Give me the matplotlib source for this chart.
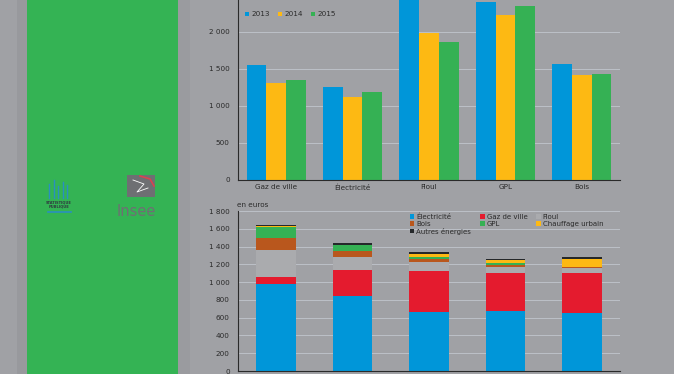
import matplotlib.pyplot as plt
from matplotlib.patches import Rectangle
import numpy as np

# Données : dépense moyenne par énergie (en euros)
categories = ['Gaz de ville', 'Électricité', 'Fioul', 'GPL', 'Bois']
annees = ['2013', '2014', '2015']
v2013 = [1550, 1260, 2600, 2410, 1565]
v2014 = [1305, 1125, 1980, 2225, 1415]
v2015 = [1350, 1190, 1860, 2345, 1435]

# Répartition de la dépense (barres empilées)
elec = [975, 845, 668, 676, 656]
gaz = [86, 296, 458, 430, 443]
fioul = [300, 146, 104, 68, 56]
bois = [140, 64, 26, 16, 12]
gpl = [124, 68, 30, 21, 6]
chauffage = [4, 4, 34, 34, 87]
autres = [14, 14, 14, 11, 18]

BG = '#a0a1a5'
BLEU = '#0096d9'
JAUNE = '#fdb913'
VERT = '#35b154'
ROUGE = '#e41b2e'
BRUN = '#b9571d'
GRIS = '#aaabae'
NOIR = '#25282a'
GRILLE = '#bcc0c8'

plt.rcParams['font.family'] = ['Liberation Sans Narrow', 'DejaVu Sans']

fig = plt.figure(figsize=(6.74, 3.74), dpi=100, facecolor=BG)

# bandeau vert à gauche
fig.patches.append(Rectangle((17 / 674, 0), 10 / 674, 1, transform=fig.transFigure,
                             facecolor='#98999d', edgecolor='none'))
fig.patches.append(Rectangle((27 / 674, 0), 151 / 674, 1, transform=fig.transFigure,
                             facecolor='#34b354', edgecolor='none'))
fig.patches.append(Rectangle((178 / 674, 0), 12 / 674, 1, transform=fig.transFigure,
                             facecolor='#9a9b9f', edgecolor='none'))

# logo Insee
fig.patches.append(Rectangle((127 / 674, 1 - 197 / 374), 28 / 674, 22 / 374,
                             transform=fig.transFigure, facecolor='#6e6f73', edgecolor='none'))
fig.text(136 / 674, 1 - 211 / 374, 'Insee', color='#6e6f73', fontsize=10.5,
         ha='center', va='center', family='DejaVu Sans')
fig.lines.append(plt.Line2D([133 / 674, 144 / 674, 137 / 674, 148 / 674],
                            [1 - 180 / 374, 1 - 184 / 374, 1 - 192 / 374, 1 - 188 / 374],
                            transform=fig.transFigure, color='white', lw=0.6))
fig.lines.append(plt.Line2D([140 / 674, 150 / 674, 154 / 674],
                            [1 - 176 / 374, 1 - 179 / 374, 1 - 186 / 374],
                            transform=fig.transFigure, color='#d9434f', lw=1.2))

# logo statistique publique
for i, h in enumerate([14, 18, 12, 16, 13]):
    xx = (49 + i * 4.5) / 674
    fig.lines.append(plt.Line2D([xx, xx], [1 - 198 / 374, 1 - (198 - h) / 374],
                                transform=fig.transFigure, color='#2a8fc0', lw=1.0))
fig.text(59 / 674, 1 - 202 / 374, 'STATISTIQUE', color='#2f3a40', fontsize=2.6,
         ha='center', va='center', weight='bold')
fig.text(59 / 674, 1 - 207 / 374, 'PUBLIQUE', color='#2f3a40', fontsize=2.6,
         ha='center', va='center', weight='bold')
fig.lines.append(plt.Line2D([48 / 674, 71 / 674], [1 - 212 / 374, 1 - 212 / 374],
                            transform=fig.transFigure, color='#2a8fc0', lw=1.2))

x = np.arange(len(categories))


def style_axes(ax, ymax, ticks, labels):
    ax.set_facecolor('none')
    ax.set_xlim(-0.5, len(categories) - 0.5)
    ax.set_ylim(0, ymax)
    ax.set_yticks(ticks)
    ax.set_yticklabels(labels, fontsize=5.2, color='#2a2a2a')
    for t in ticks[1:]:
        ax.axhline(t, color=GRILLE, lw=0.7, zorder=0)
    for s in ['top', 'right']:
        ax.spines[s].set_visible(False)
    ax.spines['left'].set_color('#2a2a2a')
    ax.spines['bottom'].set_color('#2a2a2a')
    ax.spines['left'].set_linewidth(0.8)
    ax.spines['bottom'].set_linewidth(0.8)
    ax.tick_params(axis='both', length=0, pad=6)


# graphique du haut : barres groupées
ax1 = fig.add_axes([238 / 674, 1 - 180 / 374, 382 / 674, 180 / 374])
style_axes(ax1, 2432, [0, 500, 1000, 1500, 2000], ['0', '500', '1 000', '1 500', '2 000'])
w = 0.258
for i, (vals, col, lab) in enumerate(zip([v2013, v2014, v2015], [BLEU, JAUNE, VERT], annees)):
    ax1.bar(x + (i - 1) * w, vals, width=w, color=col, label=lab, zorder=2)
ax1.set_xticks(x)
ax1.set_xticklabels(categories, fontsize=5.2, color='#2a2a2a')
ax1.tick_params(axis='x', pad=3)
ax1.legend(loc='upper left', bbox_to_anchor=(0.005, 0.965), ncol=3, frameon=False,
           fontsize=5.2, handlelength=0.6, handleheight=0.6, handletextpad=0.3,
           columnspacing=1.1, borderaxespad=0.3, labelcolor='#2a2a2a')

# graphique du bas : barres empilées
ax2 = fig.add_axes([238 / 674, 1 - 371 / 374, 382 / 674, 160 / 374])
style_axes(ax2, 1800, list(range(0, 1801, 200)),
           ['0', '200', '400', '600', '800', '1 000', '1 200', '1 400', '1 600', '1 800'])
ax2.set_xticks([])
series = [('Électricité', elec, BLEU), ('Gaz de ville', gaz, ROUGE), ('Fioul', fioul, GRIS),
          ('Bois', bois, BRUN), ('GPL', gpl, VERT), ('Chauffage urbain', chauffage, JAUNE),
          ('Autres énergies', autres, NOIR)]
bottom = np.zeros(len(categories))
handles = {}
for lab, vals, col in series:
    handles[lab] = ax2.bar(x, vals, bottom=bottom, width=0.52, color=col, label=lab, zorder=2)
    bottom += np.array(vals)
fig.text(237 / 674, 1 - 205 / 374, 'en euros', fontsize=5.2, color='#2a2a2a', va='center')

ordre = ['Électricité', 'Bois', 'Autres énergies', 'Gaz de ville', 'GPL', 'Fioul', 'Chauffage urbain']
ax2.legend([handles[k] for k in ordre], ordre, loc='upper left', bbox_to_anchor=(0.44, 1.01),
           ncol=3, frameon=False, fontsize=5.0, handlelength=0.6, handleheight=0.6,
           handletextpad=0.3, columnspacing=1.3, labelspacing=0.12, borderaxespad=0.2,
           labelcolor='#2a2a2a')

fig.savefig('out.png', dpi=100, facecolor=BG)
